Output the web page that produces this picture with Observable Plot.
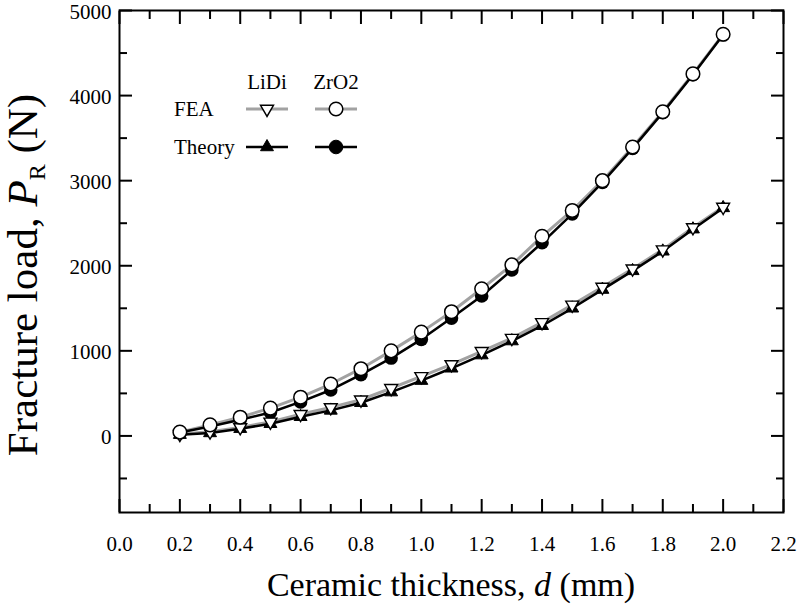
<!DOCTYPE html>
<html><head><meta charset="utf-8">
<script src="https://cdn.jsdelivr.net/npm/d3@7"></script>
<script src="https://cdn.jsdelivr.net/npm/@observablehq/plot@0.6"></script>
<style>
body{margin:0;background:#fff;}
#chart{position:relative;width:800px;height:610px;}
</style>
</head><body><div id="chart"></div>
<script>
// ---- data ----
const thickness = [0.2,0.3,0.4,0.5,0.6,0.7,0.8,0.9,1.0,1.1,1.2,1.3,1.4,1.5,1.6,1.7,1.8,1.9,2.0];
const lidiFEA    = [20,50,100,165,255,335,425,560,700,840,995,1150,1335,1540,1750,1965,2190,2450,2690];
const lidiTheory = [15,35,85,143,225,300,390,515,650,795,950,1115,1295,1500,1720,1940,2170,2430,2680];
const zro2FEA    = [45,130,220,327,455,610,790,1000,1220,1460,1730,2010,2345,2650,3000,3395,3810,4255,4720];
const zro2Theory = [40,110,190,275,400,540,720,915,1135,1385,1645,1950,2270,2610,2980,3380,3800,4245,4715];
const xMajorTicks = [0,0.2,0.4,0.6,0.8,1.0,1.2,1.4,1.6,1.8,2.0,2.2];
const xMinorTicks = [0.1,0.3,0.5,0.7,0.9,1.1,1.3,1.5,1.7,1.9,2.1];
const yMajorTicks = [0,1000,2000,3000,4000,5000];
const yMinorTicks = [-500,500,1500,2500,3500,4500];
const legendMaterials = ["LiDi","ZrO2"];
const legendMethods = ["FEA","Theory"];

const rows = (vals, material, method) => thickness.map((x,i)=>({x, y: vals[i], material, method}));
const lidiF = rows(lidiFEA,"LiDi","FEA");
const lidiT = rows(lidiTheory,"LiDi","Theory");
const zroF = rows(zro2FEA,"ZrO2","FEA");
const zroT = rows(zro2Theory,"ZrO2","Theory");

const GRAY = "#a2a2a2";
const TRI_R = 4.8, CIR_R = 6.8;

const chart = Plot.plot({
  width: 800, height: 610,
  marginLeft: 119, marginRight: 17, marginTop: 10, marginBottom: 98,
  style: {fontFamily: "'Liberation Serif', 'Times New Roman', serif", background: "#fff", color: "#000"},
  x: {domain: [0, 2.2]},
  y: {domain: [-900, 5000]},
  marks: [
    Plot.line(lidiF, {x:"x", y:"y", stroke: GRAY, strokeWidth: 3}),
    Plot.line(zroF, {x:"x", y:"y", stroke: GRAY, strokeWidth: 3}),
    Plot.line(lidiT, {x:"x", y:"y", stroke: "#000", strokeWidth: 2.5}),
    Plot.line(zroT, {x:"x", y:"y", stroke: "#000", strokeWidth: 2.5}),
    Plot.dot(lidiT, {x:"x", y:"y", symbol:"triangle", fill:"#000", stroke:"#000", strokeWidth:1, r: TRI_R}),
    Plot.dot(zroT, {x:"x", y:"y", symbol:"circle", fill:"#000", r: CIR_R}),
    Plot.dot(lidiF, {x:"x", y:"y", symbol:"triangle", rotate:180, fill:"#fff", stroke:"#000", strokeWidth:1.4, r: TRI_R}),
    Plot.dot(zroF, {x:"x", y:"y", symbol:"circle", fill:"#fff", stroke:"#000", strokeWidth:1.5, r: CIR_R}),
    Plot.frame({stroke:"#000", strokeWidth: 2}),
    // inward ticks, all four sides
    Plot.axisX(xMajorTicks, {anchor:"bottom", tickSize:-13, strokeWidth:2, tickFormat:()=>"", label:null}),
    Plot.axisX(xMinorTicks, {anchor:"bottom", tickSize:-8, strokeWidth:2, tickFormat:()=>"", label:null}),
    Plot.axisX(xMajorTicks, {anchor:"top", tickSize:-13, strokeWidth:2, tickFormat:()=>"", label:null}),
    Plot.axisX(xMinorTicks, {anchor:"top", tickSize:-8, strokeWidth:2, tickFormat:()=>"", label:null}),
    Plot.axisY(yMajorTicks, {anchor:"left", tickSize:-13, strokeWidth:2, tickFormat:()=>"", label:null}),
    Plot.axisY(yMinorTicks, {anchor:"left", tickSize:-8, strokeWidth:2, tickFormat:()=>"", label:null}),
    Plot.axisY(yMajorTicks, {anchor:"right", tickSize:-13, strokeWidth:2, tickFormat:()=>"", label:null}),
    Plot.axisY(yMinorTicks, {anchor:"right", tickSize:-8, strokeWidth:2, tickFormat:()=>"", label:null}),
    // tick labels
    Plot.axisX(xMajorTicks, {anchor:"bottom", tickSize:0, tickPadding:24, tickFormat:d3.format(".1f"), fontSize:21, label:null}),
    Plot.axisY(yMajorTicks, {anchor:"left", tickSize:0, tickPadding:8, dy:1.5, tickFormat:d3.format("d"), fontSize:21, label:null})
  ]
});
document.getElementById("chart").appendChild(chart);

const svg = d3.select(chart);
const FONT = "'Liberation Serif', 'Times New Roman', serif";
// axis titles
const xt = svg.append("text").attr("x", 451).attr("y", 596).attr("text-anchor","middle")
  .attr("font-family", FONT).attr("font-size", 34).attr("fill","#000");
xt.append("tspan").text("Ceramic thickness, ");
xt.append("tspan").attr("font-style","italic").text("d");
xt.append("tspan").text(" (mm)");

const yt = svg.append("text").attr("transform","translate(37,275) rotate(-90)").attr("text-anchor","middle")
  .attr("font-family", FONT).attr("font-size", 43).attr("fill","#000");
yt.append("tspan").text("Fracture load, ");
yt.append("tspan").attr("font-style","italic").text("P");
yt.append("tspan").attr("font-size", 24).attr("dy", 8).text("R");
yt.append("tspan").attr("dy", -8).text(" (N)");

// legend
const lg = svg.append("g").attr("font-family", FONT).attr("font-size", 21).attr("fill","#000");
const colX = [267, 336];
const rowY = [109, 147];
legendMaterials.forEach((m,i)=> lg.append("text").attr("x", colX[i]).attr("y", 89).attr("text-anchor","middle").text(m));
legendMethods.forEach((m,j)=> lg.append("text").attr("x", 174).attr("y", rowY[j]+7).attr("text-anchor","start").text(m));
legendMethods.forEach((m,j)=>{
  legendMaterials.forEach((mat,i)=>{
    const cx = colX[i], cy = rowY[j];
    lg.append("line").attr("x1", cx-21).attr("x2", cx+21).attr("y1", cy).attr("y2", cy)
      .attr("stroke", m==="FEA" ? GRAY : "#000").attr("stroke-width", m==="FEA" ? 3 : 2.5);
    const isTri = mat==="LiDi";
    const sym = d3.symbol(isTri ? d3.symbolTriangle : d3.symbolCircle, Math.PI*(isTri?TRI_R:CIR_R)**2)();
    const p = lg.append("path").attr("d", sym)
      .attr("transform", `translate(${cx},${cy})${(isTri && m==="FEA") ? " rotate(180)" : ""}`);
    if (m==="FEA") p.attr("fill","#fff").attr("stroke","#000").attr("stroke-width",1.5);
    else p.attr("fill","#000").attr("stroke","#000").attr("stroke-width",1);
  });
});
</script>
</body></html>
